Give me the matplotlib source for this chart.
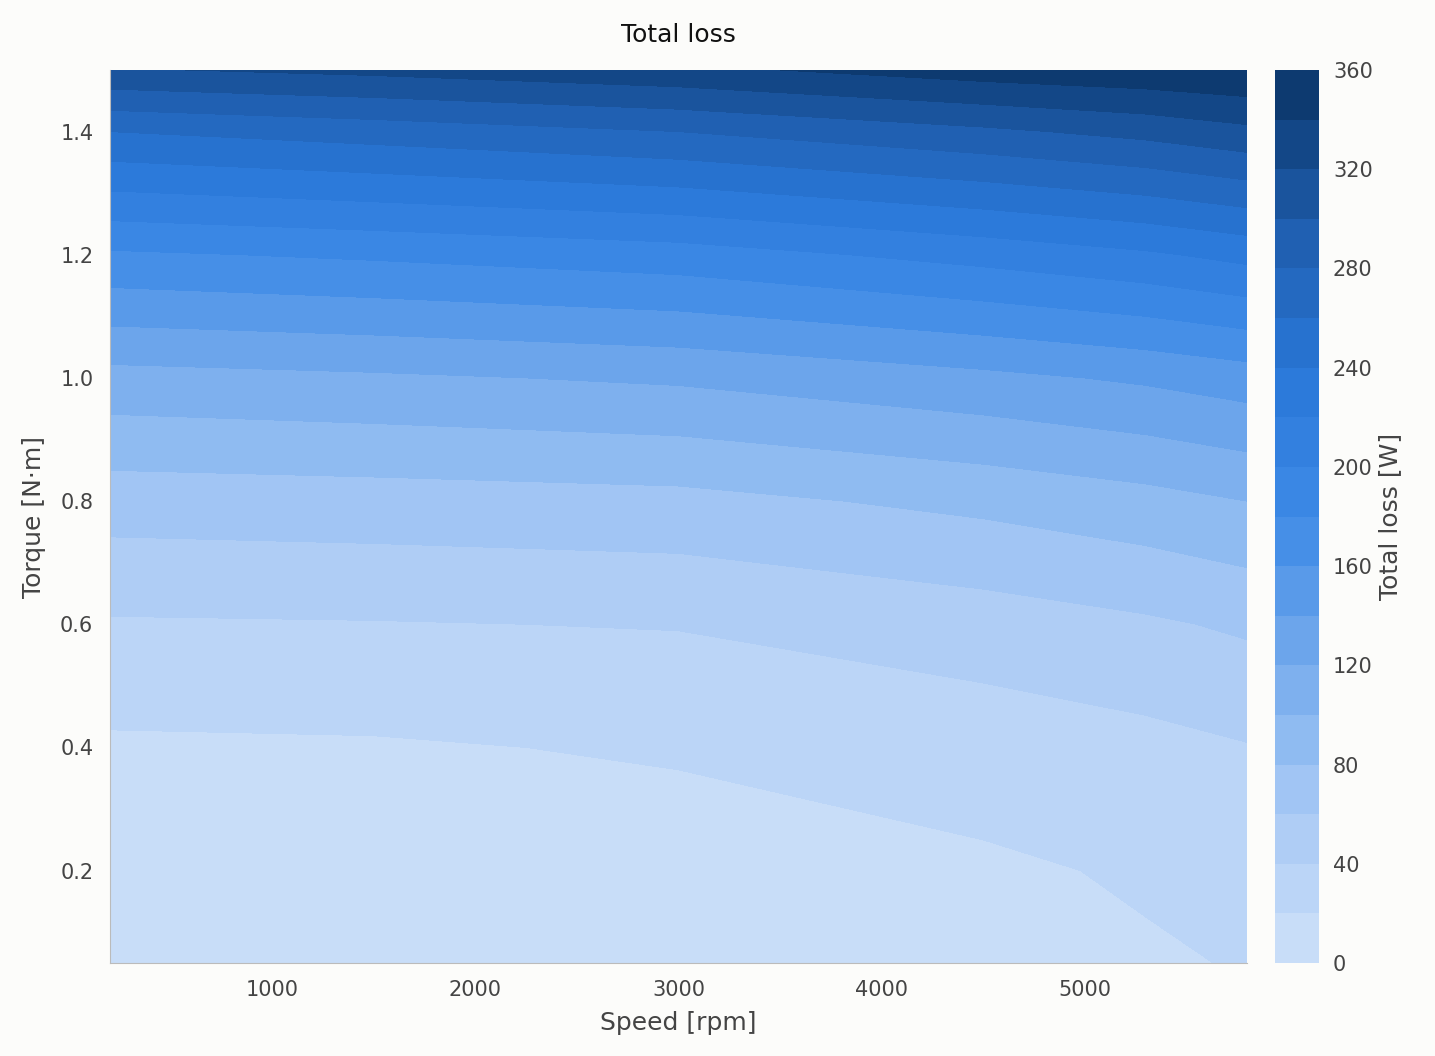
import numpy as np
import matplotlib
matplotlib.use("Agg")
import matplotlib.pyplot as plt
from matplotlib.colors import LinearSegmentedColormap, BoundaryNorm

# values (loss in W)
speed_rpm = [200, 1500, 3000, 4500, 5300, 5800]
torque_nm = [0.05, 0.2, 0.4, 0.6, 0.8, 1.0, 1.2, 1.4, 1.5]
loss_200 = [2, 5, 17, 38, 69, 113, 177, 260, 318]
loss_1500 = [4, 7, 18, 39, 71, 117, 183, 269, 325]
loss_3000 = [8, 11, 22, 41, 74, 123, 191, 280, 335]
loss_4500 = [13, 17, 29, 50, 85, 135, 207, 296, 350]
loss_5300 = [18, 22, 34, 57, 93, 143, 217, 306, 355]
loss_5800 = [21, 26, 39, 63, 100, 150, 226, 315, 359]
levels = list(range(0, 361, 20))

BG = "#fcfcfa"
TXT = "#444444"

loss = np.column_stack([loss_200, loss_1500, loss_3000, loss_4500,
                        loss_5300, loss_5800])
S, T = np.meshgrid(speed_rpm, torque_nm)

cmap = LinearSegmentedColormap.from_list(
    "loss", ["#c8ddf8", "#a4c7f4", "#72a9ec", "#3d8ae6", "#2a78d8",
             "#1f5fb0", "#0d3a70"])
norm = BoundaryNorm(levels, cmap.N)

fig = plt.figure(figsize=(14.35, 10.56), dpi=100, facecolor=BG)
ax = fig.add_axes([110 / 1435, 93 / 1056, 1137 / 1435, 893 / 1056])
cax = fig.add_axes([1275 / 1435, 93 / 1056, 44 / 1435, 893 / 1056])
ax.set_facecolor(BG)

cs = ax.contourf(S, T, loss, levels=levels, cmap=cmap, norm=norm)
ax.set_xlim(200, 5800)
ax.set_ylim(0.05, 1.5)
ax.set_xticks([1000, 2000, 3000, 4000, 5000])
ax.set_yticks([0.2, 0.4, 0.6, 0.8, 1.0, 1.2, 1.4])
for s in ["top", "right"]:
    ax.spines[s].set_visible(False)
for s in ["left", "bottom"]:
    ax.spines[s].set_color("#bbbbbb")
ax.tick_params(length=0, labelsize=15, colors=TXT, pad=12)
ax.set_xlabel("Speed [rpm]", fontsize=18, color=TXT, labelpad=8)
ax.set_ylabel("Torque [N·m]", fontsize=18, color=TXT, labelpad=10)
ax.set_title("Total loss", fontsize=18, color="#111111", pad=20)

cb = fig.colorbar(cs, cax=cax, ticks=list(range(0, 361, 40)))
cb.outline.set_visible(False)
cb.ax.minorticks_off()
cb.ax.tick_params(which="both", length=0, labelsize=15, colors=TXT, pad=10)
cb.set_label("Total loss [W]", fontsize=18, color=TXT)

fig.savefig("out.png", dpi=100, facecolor=BG)
